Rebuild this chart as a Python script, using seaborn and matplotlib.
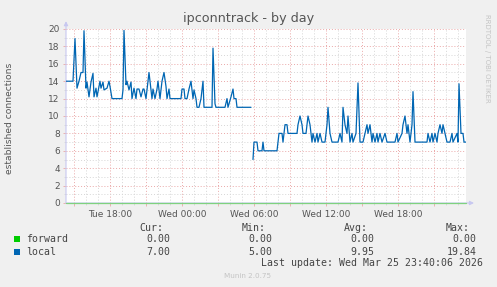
import matplotlib
matplotlib.use("Agg")
import matplotlib.pyplot as plt
import matplotlib.dates as mdates
from matplotlib.ticker import MultipleLocator, FuncFormatter
from matplotlib.patches import Rectangle
import seaborn as sns
import pandas as pd
import numpy as np

nan = np.nan

# ---------------- data ----------------
times = [
    "24 14:20", "24 14:55", "24 15:05", "24 15:15", "24 15:25", "24 15:35", "24 15:45", "24 15:50",
    "24 16:00", "24 16:05", "24 16:15", "24 16:25", "24 16:35", "24 16:40", "24 16:50", "24 16:55",
    "24 17:05", "24 17:10", "24 17:15", "24 17:25", "24 17:30", "24 17:45", "24 17:55", "24 18:00",
    "24 18:10", "24 19:00", "24 19:05", "24 19:10", "24 19:20", "24 19:25", "24 19:35", "24 19:45",
    "24 19:50", "24 20:00", "24 20:10", "24 20:15", "24 20:25", "24 20:35", "24 20:45", "24 20:50",
    "24 21:00", "24 21:10", "24 21:15", "24 21:25", "24 21:30", "24 21:35", "24 21:45", "24 21:55",
    "24 22:00", "24 22:10", "24 22:20", "24 22:30", "24 22:40", "24 22:45", "24 22:55", "24 23:00",
    "24 23:55", "25 00:00", "25 00:10", "25 00:15", "25 00:25", "25 00:35", "25 00:45", "25 00:55",
    "25 01:00", "25 01:10", "25 01:15", "25 01:25", "25 01:35", "25 01:45", "25 01:50", "25 02:30",
    "25 02:35", "25 02:45", "25 02:50", "25 03:35", "25 03:45", "25 03:50", "25 04:05", "25 04:15",
    "25 04:20", "25 04:30", "25 04:35", "25 05:45", "25 05:50", "25 05:55", "25 06:00", "25 06:15",
    "25 06:20", "25 06:40", "25 06:45", "25 06:50", "25 07:55", "25 08:05", "25 08:20", "25 08:25",
    "25 08:35", "25 08:45", "25 08:50", "25 09:35", "25 09:40", "25 09:50", "25 10:00", "25 10:05",
    "25 10:20", "25 10:30", "25 10:40", "25 10:50", "25 10:55", "25 11:05", "25 11:15", "25 11:20",
    "25 11:30", "25 11:40", "25 11:55", "25 12:05", "25 12:10", "25 12:20", "25 12:30", "25 13:00",
    "25 13:10", "25 13:20", "25 13:25", "25 13:35", "25 13:45", "25 13:50", "25 14:00", "25 14:10",
    "25 14:15", "25 14:30", "25 14:40", "25 14:50", "25 15:05", "25 15:15", "25 15:25", "25 15:30",
    "25 15:40", "25 15:50", "25 15:55", "25 16:05", "25 16:15", "25 16:20", "25 16:30", "25 16:40",
    "25 16:55", "25 17:05", "25 17:45", "25 17:55", "25 18:00", "25 18:20", "25 18:25", "25 18:35",
    "25 18:45", "25 18:50", "25 19:00", "25 19:10", "25 19:15", "25 19:25", "25 20:25", "25 20:30",
    "25 20:40", "25 20:50", "25 20:55", "25 21:05", "25 21:15", "25 21:20", "25 21:30", "25 21:40",
    "25 21:45", "25 21:55", "25 22:05", "25 22:20", "25 22:30", "25 22:35", "25 22:55", "25 23:00",
    "25 23:05", "25 23:15", "25 23:25", "25 23:30", "25 23:40",
]
local = [
    14, 14, 18.9, 13.2, 14, 15, 15, 19.8,
    13.2, 13.9, 12.2, 13.9, 14.9, 12.2, 13.2, 12.2,
    13.4, 14, 13.2, 13.9, 13, 13.2, 14, 13.4,
    12, 12, 13, 19.84, 13.6, 14, 13, 13.9,
    12, 13.2, 12, 13.1, 13.1, 12.2, 13.1, 13.1,
    12, 14, 15, 13, 12, 13.1, 12, 13.1,
    14, 12, 14, 15, 13.4, 12, 13.1, 12,
    12, 13.1, 13.1, 12, 12, 13.1, 14, 12,
    13, 12, 11, 11, 12, 14, 11, 11,
    17.8, 11.4, 11, 11, 12, 11, 12.2, 13.1,
    12, 12, 11, 11, nan, 5, 7, 7,
    6, 6, 7, 6, 6, 8, 8, 7,
    9, 9, 8, 8, 9, 10, 9, 8,
    8, 10, 9, 7, 8, 7, 8, 7,
    8, 7, 7, 9, 11, 8, 7, 7,
    8, 7, 11, 9, 8, 10, 7, 8,
    7, 8, 13.8, 7, 7, 8, 9, 8,
    9, 7, 8, 7, 8, 7, 8, 7,
    8, 7, 7, 8, 7, 8, 9, 10,
    8, 9, 7, 9, 12.8, 7, 7, 8,
    7, 8, 7, 8, 7, 8, 9, 8,
    9, 8, 7, 7, 8, 7, 8, 7,
    13.7, 8, 8, 7, 7,
]
forward_times = ["24 14:20", "25 23:40"]
forward = [0.0, 0.0]

y_ticks = [0, 2, 4, 6, 8, 10, 12, 14, 16, 18, 20]

legend_rows = [
    ("forward", "#00CC00", ["0.00", "0.00", "0.00", "0.00"]),
    ("local", "#0066B3", ["7.00", "5.00", "9.95", "19.84"]),
]
col_headers = ["Cur:", "Min:", "Avg:", "Max:"]
last_update = "Last update: Wed Mar 25 23:40:06 2026"

# ---------------- frame ----------------
W, H = 497, 287
sns.set_theme(style="white")
plt.rcParams["font.family"] = ["DejaVu Sans"]

def parse(ts):
    return pd.to_datetime(["2026-03-" + t for t in ts], format="%Y-%m-%d %H:%M")

df = pd.DataFrame({"time": parse(times), "local": local})
df["seg"] = df["local"].isna().cumsum()
df = df.dropna()
fdf = pd.DataFrame({"time": parse(forward_times), "forward": forward})

fig = plt.figure(figsize=(W / 100, H / 100), dpi=100, facecolor="#F0F0F0")
ax = fig.add_axes([66 / W, 1 - 203 / H, 400 / W, 174 / H])
ax.set_facecolor("#FFFFFF")

def fx(x):
    return x / W

def fy(y):
    return 1 - y / H

# grid
major_c = "#EAA8A8"
minor_c = "#D6D6D6"
ax.yaxis.set_major_locator(MultipleLocator(2))
ax.yaxis.set_minor_locator(MultipleLocator(1))
ax.xaxis.set_major_locator(mdates.HourLocator(byhour=range(0, 24, 3)))
ax.xaxis.set_minor_locator(mdates.HourLocator())

def xfmt(v, pos):
    d = mdates.num2date(v)
    return d.strftime("%a %H:%M") if d.hour % 6 == 0 else ""

ax.xaxis.set_major_formatter(FuncFormatter(xfmt))
ax.grid(which="minor", color=minor_c, linestyle=(0, (1, 2)), linewidth=0.7)
ax.grid(which="major", color=major_c, linestyle=(0, (1, 2)), linewidth=0.7)
ax.set_axisbelow(True)

sns.lineplot(data=fdf, x="time", y="forward", color="#7FD27F", linewidth=0.9, ax=ax,
             clip_on=False, zorder=4)
sns.lineplot(data=df, x="time", y="local", units="seg", estimator=None, color="#0066B3",
             linewidth=0.9, ax=ax, zorder=5)

ax.set_xlim(parse(forward_times)[0], parse(forward_times)[1])
ax.set_ylim(0, 20)
ax.set_yticks(y_ticks)
ax.set_xlabel("")
ax.set_ylabel("")

for s in ax.spines.values():
    s.set_visible(False)
axis_c = "#C8C8F0"
ax.annotate("", xy=(0, 1.045), xytext=(0, 0), xycoords="axes fraction",
            arrowprops=dict(arrowstyle="-|>", color=axis_c, lw=0.8, mutation_scale=6,
                            shrinkA=0, shrinkB=0), annotation_clip=False, zorder=3)
ax.annotate("", xy=(1.02, 0), xytext=(0, 0), xycoords="axes fraction",
            arrowprops=dict(arrowstyle="-|>", color=axis_c, lw=0.8, mutation_scale=6,
                            shrinkA=0, shrinkB=0), annotation_clip=False, zorder=3)

txt_c = "#555555"
ax.tick_params(axis="both", which="major", labelsize=6.5, labelcolor=txt_c, length=2,
               width=0.6, color=major_c, pad=2.5, direction="out", left=True, bottom=True)
ax.tick_params(axis="both", which="minor", length=1.5, width=0.6, color=minor_c,
               direction="out", left=True, bottom=True)
ax.tick_params(axis="x", which="major", pad=3)

# texts
fig.text(0.5, fy(18.5), "ipconntrack - by day", ha="center", va="center",
         fontsize=9.2, color=txt_c)
fig.text(fx(10), fy(118), "established connections", rotation=90, ha="center",
         va="center", fontsize=6.6, color=txt_c)
fig.text(fx(487.5), fy(58), "RRDTOOL / TOBI OETIKER", rotation=270, ha="center",
         va="center", fontsize=5.0, color="#C4C4C4")
fig.text(fx(248), fy(276), "Munin 2.0.75", ha="center", va="center", fontsize=5.2,
         color="#C4C4C4")

mono = dict(family="DejaVu Sans Mono", fontsize=7.1, color="#444444", va="center")
head_x = [163.3, 265.7, 367.7, 470.0]
val_x = [170.0, 272.3, 374.3, 476.7]
for hx, h in zip(head_x, col_headers):
    fig.text(fx(hx), fy(227.7), h, ha="right", **mono)
for (name, col, vals), ry in zip(legend_rows, [239.3, 251.7]):
    fig.add_artist(Rectangle((fx(14), fy(ry + 3)), 6 / W, 6 / H, transform=fig.transFigure,
                             facecolor=col, edgecolor="none"))
    fig.text(fx(26.5), fy(ry), name, ha="left", **mono)
    for vx, v in zip(val_x, vals):
        fig.text(fx(vx), fy(ry), v, ha="right", **mono)
fig.text(fx(482.7), fy(263.3), last_update, ha="right", **mono)

fig.savefig("out.png", dpi=100, facecolor=fig.get_facecolor())
